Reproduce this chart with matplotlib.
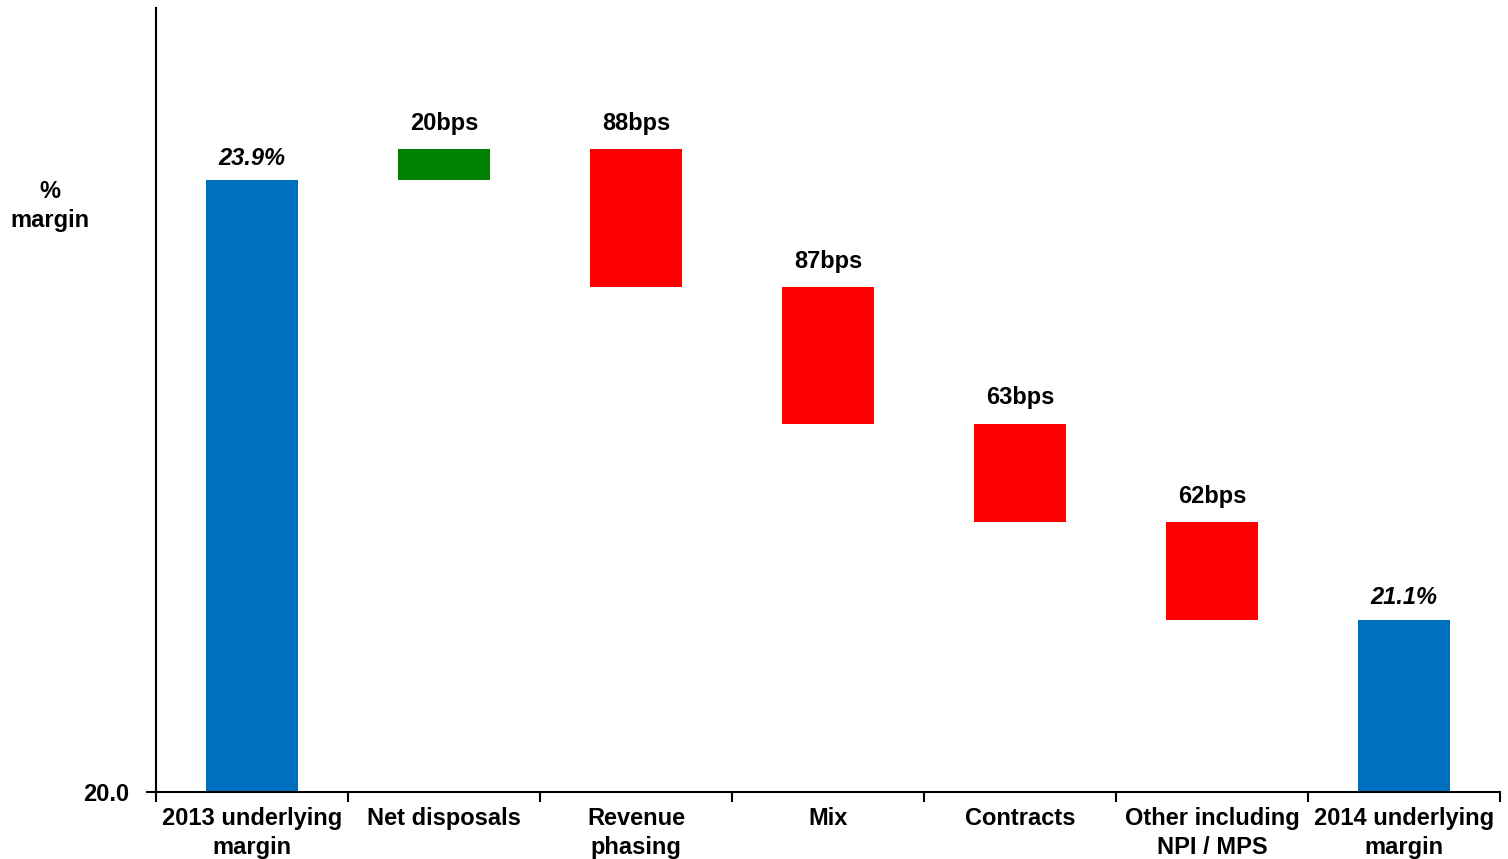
import numpy as np
import matplotlib.pyplot as plt

plt.rcParams['font.family'] = ['Liberation Sans', 'DejaVu Sans']

categories = ["2013 underlying\nmargin", "Net disposals", "Revenue\nphasing", "Mix",
              "Contracts", "Other including\nNPI / MPS", "2014 underlying\nmargin"]
start_margin = 23.9
changes_bps = [20, -88, -87, -63, -62]
end_margin = 21.1
change_labels = ["20bps", "88bps", "87bps", "63bps", "62bps"]

BLUE = "#0070c0"
GREEN = "#008000"
RED = "#ff0000"
BASE = 20.0
FS = 17

fig = plt.figure(figsize=(15.08, 8.59), dpi=100)
ax = fig.add_axes([156 / 1508, 1 - 792 / 859, 1344 / 1508, 784 / 859])

x = np.arange(len(categories))
w = 0.48

# totals
ax.bar(x[0], start_margin - BASE, bottom=BASE, width=w, color=BLUE)
ax.bar(x[-1], end_margin - BASE, bottom=BASE, width=w, color=BLUE)
ax.text(x[0], start_margin + 0.07, f"{start_margin}%", ha="center", va="bottom",
        fontsize=FS, fontweight="bold", style="italic")
ax.text(x[-1], end_margin + 0.07, f"{end_margin}%", ha="center", va="bottom",
        fontsize=FS, fontweight="bold", style="italic")

# steps
level = start_margin
for i, (d, lab) in enumerate(zip(changes_bps, change_labels)):
    delta = d / 100
    lo, hi = min(level, level + delta), max(level, level + delta)
    ax.bar(x[i + 1], hi - lo, bottom=lo, width=w, color=GREEN if d > 0 else RED)
    ax.text(x[i + 1], hi + 0.09, lab, ha="center", va="bottom",
            fontsize=FS, fontweight="bold")
    level += delta

ax.set_xlim(-0.5, len(categories) - 0.5)
ax.set_ylim(BASE, 25.0)
ax.set_yticks([BASE])
ax.set_yticklabels([f"{BASE:.1f}"], fontsize=FS, fontweight="bold")

ax.set_xticks(x)
ax.set_xticklabels(categories, fontsize=FS, fontweight="bold", linespacing=1.3)
ax.tick_params(axis="x", length=0, pad=11)
ax.set_xticks(np.arange(len(categories) + 1) - 0.5, minor=True)
ax.tick_params(axis="x", which="minor", length=7, width=1.5, direction="out")
ax.tick_params(axis="y", length=7, width=1.5, pad=12)

for s in ["top", "right"]:
    ax.spines[s].set_visible(False)
for s in ["left", "bottom"]:
    ax.spines[s].set_linewidth(1.5)

fig.text(50 / 1508, 1 - 206 / 859, "%\nmargin", ha="center", va="center",
         fontsize=FS, fontweight="bold", linespacing=1.35)

fig.savefig("out.png", dpi=100)
